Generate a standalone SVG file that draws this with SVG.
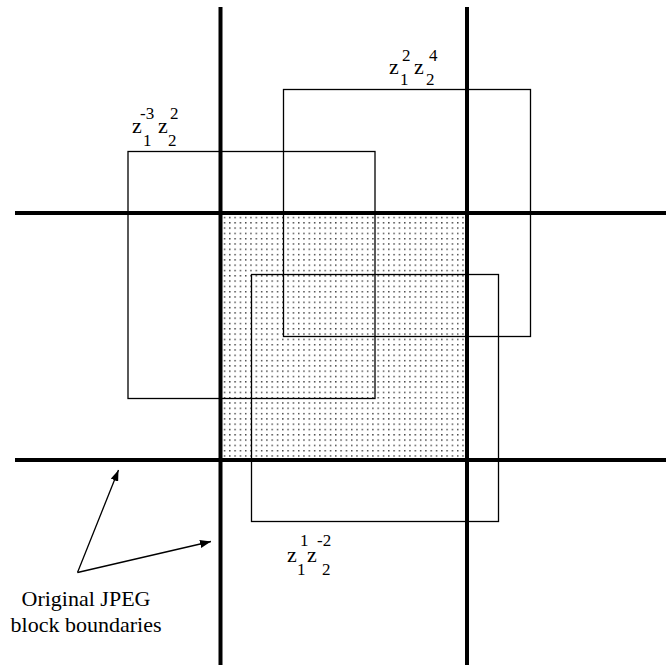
<svg xmlns="http://www.w3.org/2000/svg" width="666" height="665" viewBox="0 0 666 665">
<style>
.thick{stroke:#000;stroke-width:4;fill:none}
.box{stroke:#000;stroke-width:1.3;fill:none}
.arr{stroke:#000;stroke-width:1.3;fill:none;marker-end:url(#ah)}
text{font-family:"Liberation Serif","Times New Roman",serif;fill:#000}
.z{font-size:22px}
.s{font-size:17px}
.lbl{font-size:22px;text-anchor:middle}
</style>
<defs>
<pattern id="dots" width="5.3" height="5.3" patternUnits="userSpaceOnUse" x="222" y="215">
<rect x="1.8" y="1.8" width="1.4" height="1.4" fill="#333"/>
</pattern>
<marker id="ah" markerWidth="12" markerHeight="8" refX="11" refY="4" orient="auto" markerUnits="userSpaceOnUse">
<path d="M0,0 L11,4 L0,8 Z" fill="#000"/>
</marker>
</defs>
<rect width="666" height="665" fill="#fff"/>
<g id="shaded"><rect x="220.5" y="213" width="246.5" height="247" fill="url(#dots)"/></g>
<g id="box-a">
<rect class="box" x="128" y="151.5" width="247" height="247"/>
<text class="z" x="132" y="133">z</text><text class="s" x="140" y="119">-3</text><text class="s" x="143" y="146">1</text>
<text class="z" x="158" y="133">z</text><text class="s" x="170" y="119">2</text><text class="s" x="168" y="146">2</text>
</g>
<g id="box-b">
<rect class="box" x="283.5" y="89.5" width="247" height="247"/>
<text class="z" x="389" y="74">z</text><text class="s" x="402" y="61">2</text><text class="s" x="400" y="85">1</text>
<text class="z" x="414" y="74">z</text><text class="s" x="429" y="61">4</text><text class="s" x="426" y="85">2</text>
</g>
<g id="box-c">
<rect class="box" x="251.5" y="274.5" width="247" height="247"/>
<text class="z" x="287" y="562">z</text><text class="s" x="300" y="546">1</text><text class="s" x="297" y="575">1</text>
<text class="z" x="307" y="562">z</text><text class="s" x="317" y="546">-2</text><text class="s" x="322" y="575">2</text>
</g>
<g id="grid">
<line class="thick" x1="220.5" y1="7" x2="220.5" y2="665"/>
<line class="thick" x1="467" y1="7" x2="467" y2="665"/>
<line class="thick" x1="15" y1="213" x2="666" y2="213"/>
<line class="thick" x1="15" y1="460" x2="666" y2="460"/>
</g>
<g id="connectors">
<line class="arr" x1="77.5" y1="572.5" x2="118.5" y2="470"/>
<line class="arr" x1="77.5" y1="572.5" x2="211" y2="541.5"/>
</g>
<g id="label">
<text class="lbl" x="86" y="606">Original JPEG</text>
<text class="lbl" x="86" y="632">block boundaries</text>
</g>
</svg>
